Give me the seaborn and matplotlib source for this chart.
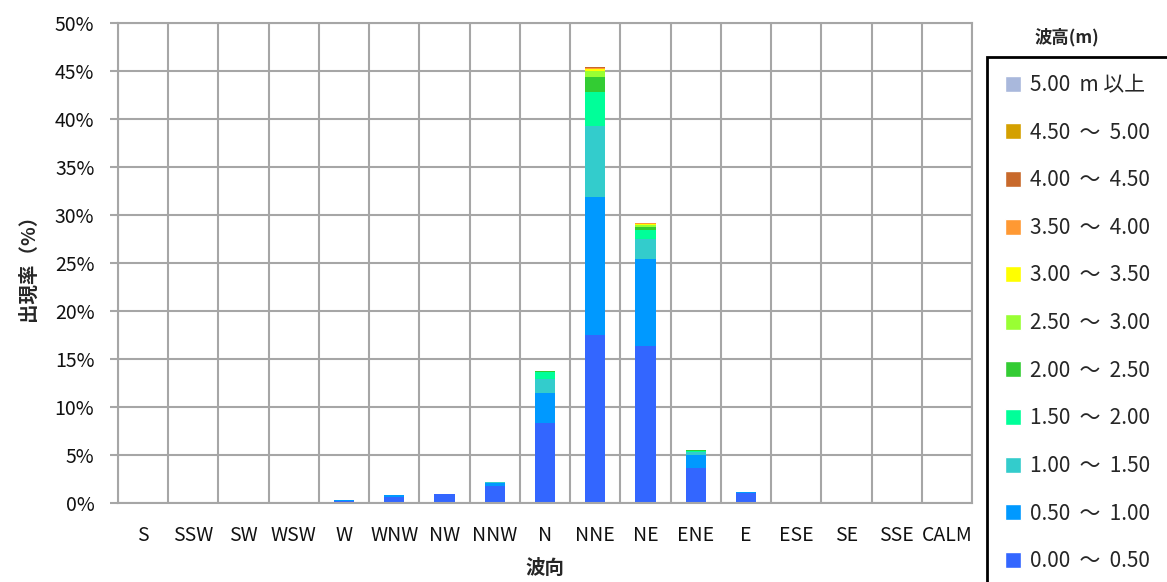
import numpy as np
import pandas as pd
import matplotlib
matplotlib.use("Agg")
import matplotlib.pyplot as plt
import matplotlib.patches as mpatches
from matplotlib.ticker import PercentFormatter, FixedLocator
import seaborn as sns

# Wave direction categories
directions = ['S', 'SSW', 'SW', 'WSW', 'W', 'WNW', 'NW', 'NNW', 'N', 'NNE',
              'NE', 'ENE', 'E', 'ESE', 'SE', 'SSE', 'CALM']

# Occurrence rate (%) per wave height class
h_00_05 = [0.03, 0, 0, 0.02, 0.20, 0.60, 0.90, 1.75, 8.35, 17.45, 16.35, 3.65, 1.00, 0, 0, 0, 0]
h_05_10 = [0.05, 0, 0, 0, 0.08, 0.20, 0.05, 0.35, 3.10, 14.40, 9.05, 1.30, 0.15, 0, 0, 0, 0]
h_10_15 = [0.07, 0, 0, 0, 0, 0, 0, 0.05, 1.45, 7.45, 2.15, 0.35, 0.05, 0, 0, 0, 0]
h_15_20 = [0, 0, 0, 0, 0, 0, 0, 0, 0.70, 3.50, 0.85, 0.15, 0, 0, 0, 0, 0]
h_20_25 = [0, 0, 0, 0, 0, 0, 0, 0, 0.10, 1.55, 0.35, 0.03, 0, 0, 0, 0, 0]
h_25_30 = [0, 0, 0, 0, 0, 0, 0, 0, 0.08, 0.60, 0.17, 0.03, 0, 0.12, 0, 0, 0]
h_30_35 = [0, 0, 0, 0, 0, 0, 0, 0, 0.02, 0.25, 0.13, 0.02, 0, 0, 0, 0, 0]
h_35_40 = [0, 0, 0, 0, 0, 0, 0, 0, 0, 0.12, 0.10, 0, 0, 0, 0, 0, 0]
h_40_45 = [0, 0, 0, 0, 0, 0, 0, 0, 0, 0.05, 0.03, 0, 0, 0, 0, 0, 0]
h_45_50 = [0, 0, 0, 0, 0, 0, 0, 0, 0, 0.02, 0.02, 0, 0, 0, 0, 0, 0]
h_50_up = [0] * 17

classes = ['0.00  ～  0.50', '0.50  ～  1.00', '1.00  ～  1.50', '1.50  ～  2.00',
           '2.00  ～  2.50', '2.50  ～  3.00', '3.00  ～  3.50', '3.50  ～  4.00',
           '4.00  ～  4.50', '4.50  ～  5.00', '5.00  m 以上']
class_values = [h_00_05, h_05_10, h_10_15, h_15_20, h_20_25, h_25_30,
                h_30_35, h_35_40, h_40_45, h_45_50, h_50_up]
class_colors = ['#3366FF', '#0099FF', '#33CCCC', '#00FF99', '#33CC33', '#99FF33',
                '#FFFF00', '#FF9933', '#C8692B', '#D4A000', '#A9B8DC']

GRID = '#A6A6A6'

sns.set_style("white")
plt.rcParams['font.family'] = ['Noto Sans CJK JP', 'DejaVu Sans']

fig = plt.figure(figsize=(11.67, 5.82), dpi=100)
ax = fig.add_axes([0.1011, 0.1357, 0.7318, 0.8248])

# Stacked bars: draw cumulative totals from the top class down
df = pd.DataFrame(dict(zip(classes, class_values)), index=directions)
cum = df.cumsum(axis=1)
for name, color in reversed(list(zip(classes, class_colors))):
    sns.barplot(x=directions, y=cum[name].values, order=directions, color=color,
                saturation=1, width=0.4, linewidth=0, errorbar=None, ax=ax)

ax.set_xlim(-0.5, 16.5)
ax.set_ylim(0, 50)
ax.yaxis.set_major_locator(FixedLocator(np.arange(0, 51, 5)))
ax.yaxis.set_major_formatter(PercentFormatter(decimals=0))
ax.set_xticks(range(len(directions)))
ax.set_xticklabels(directions)
ax.xaxis.set_minor_locator(FixedLocator(np.arange(-0.5, 17, 1)))

ax.grid(axis='y', which='major', color=GRID, linewidth=1.5)
ax.grid(axis='x', which='minor', color=GRID, linewidth=1.5)
ax.set_axisbelow(True)
for sp in ax.spines.values():
    sp.set_color(GRID)
    sp.set_linewidth(1.5)

ax.tick_params(axis='x', which='major', length=0, pad=16, labelsize=14, labelcolor='#111111')
ax.tick_params(axis='x', which='minor', length=6, width=1.5, color=GRID, direction='out')
ax.tick_params(axis='y', which='major', length=6, width=1.5, color=GRID, pad=11,
               labelsize=14, labelcolor='#111111', left=True)

ax.set_xlabel('波向', fontsize=14, fontweight='bold', labelpad=9)
ax.set_ylabel('出現率（%）', fontsize=14, fontweight='bold', labelpad=12)

# Legend (top class first), with its own frame running off the figure
handles = [mpatches.Patch(facecolor=c, label=l)
           for l, c in reversed(list(zip(classes, class_colors)))]
fig.legend(handles=handles, loc='upper left', bbox_to_anchor=(0.861, 0.873),
           bbox_transform=fig.transFigure, frameon=False, fontsize=15,
           handlelength=0.8, handleheight=0.8, handletextpad=0.4,
           labelspacing=1.23, borderpad=0, borderaxespad=0)
fig.add_artist(mpatches.Rectangle((0.8458, -0.1), 0.3, 1.0021, transform=fig.transFigure,
                                  fill=False, edgecolor='black', linewidth=2, clip_on=False))
fig.text(0.9143, 0.9364, '波高(m)', ha='center', va='center', fontsize=12.5, fontweight='bold')

fig.savefig('out.png', dpi=100)
